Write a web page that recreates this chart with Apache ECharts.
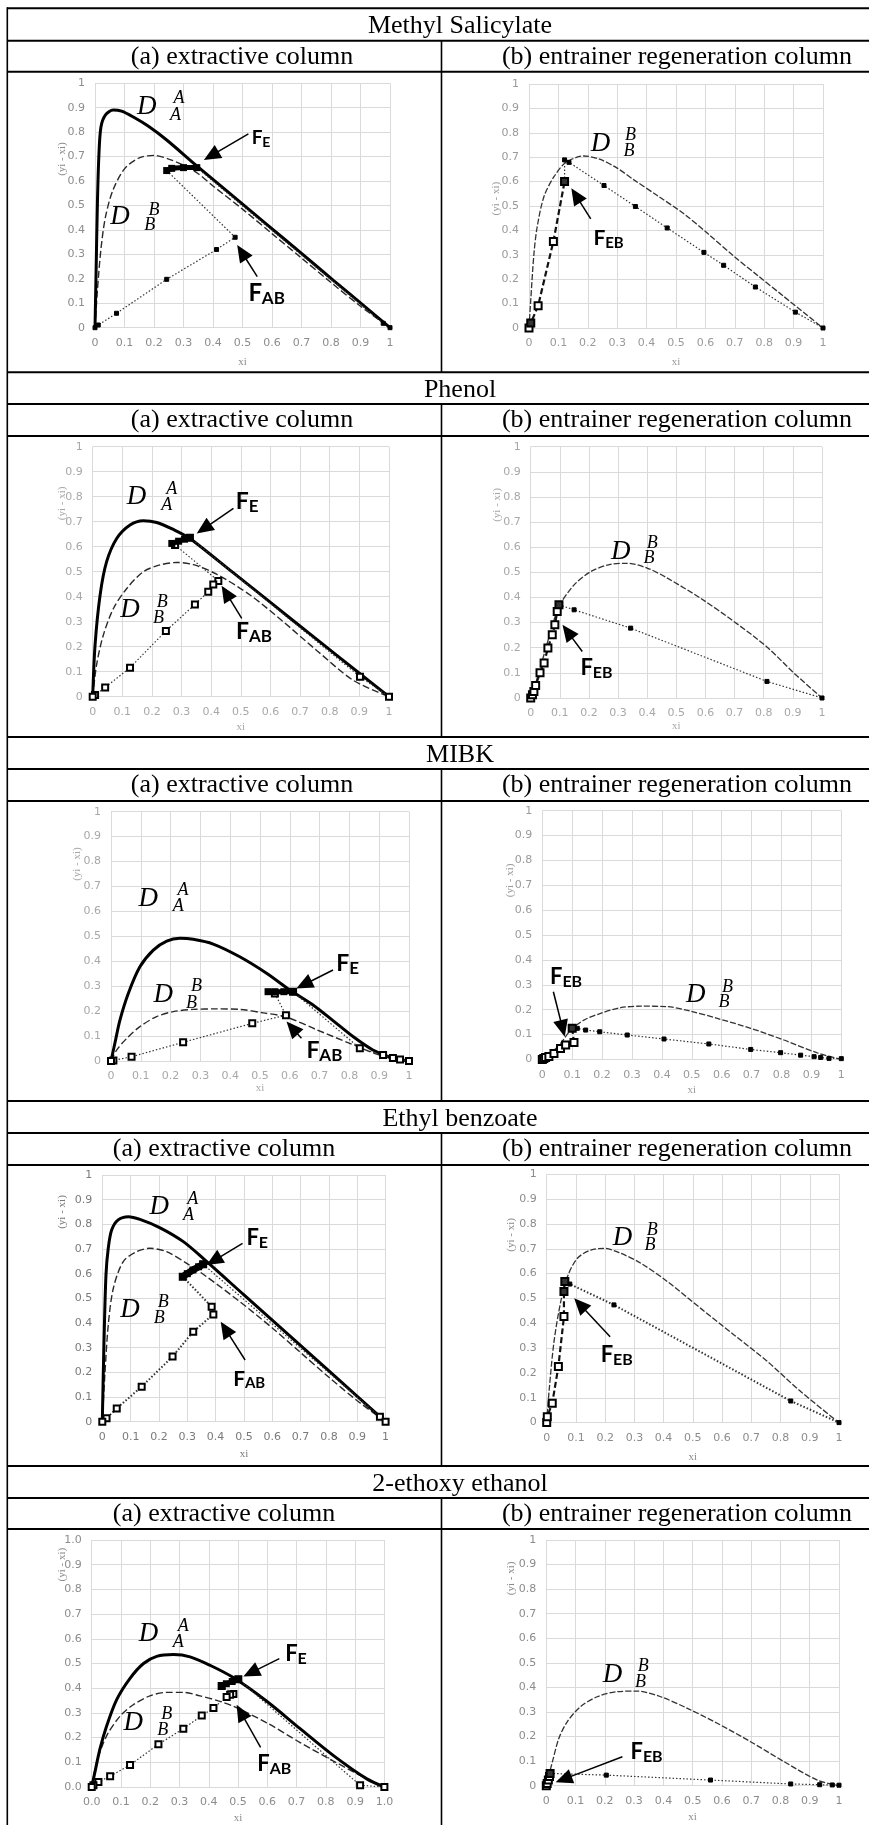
<!DOCTYPE html>
<html><head><meta charset="utf-8">
<script src="https://cdn.jsdelivr.net/npm/echarts@6/dist/echarts.min.js"></script>
<style>html,body{margin:0;padding:0;background:#fff}#c{width:869px;height:1825px}</style>
</head><body><div id="c"></div>
<script>
// ---------- tick labels ----------
const tickLabelsPlain = ['0','0.1','0.2','0.3','0.4','0.5','0.6','0.7','0.8','0.9','1'];
const tickLabelsFixed = ['0.0','0.1','0.2','0.3','0.4','0.5','0.6','0.7','0.8','0.9','1.0'];
const sectionTitles = ['Methyl Salicylate','Phenol','MIBK','Ethyl benzoate','2-ethoxy ethanol'];
const subTitles = ['(a) extractive column','(b) entrainer regeneration column'];
const xName = 'xi';
const yName = '(yi - xi)';

// ---------- Methyl Salicylate ----------
const msA_DA = [[0,0],[0.004,0.25],[0.008,0.5],[0.013,0.7],[0.02,0.82],[0.035,0.87],[0.062,0.891],[0.09,0.886],[0.13,0.862],[0.18,0.825],[0.243,0.768],[0.345,0.662],[0.469,0.537],[0.582,0.423],[0.695,0.309],[0.808,0.194],[0.921,0.08],[1,0]];
const msA_DB = [[0,0],[0.008,0.15],[0.02,0.32],[0.035,0.45],[0.06,0.56],[0.1,0.65],[0.15,0.695],[0.2,0.705],[0.25,0.69],[0.3,0.665],[0.35,0.63],[0.4,0.58],[0.5,0.485],[0.6,0.385],[0.7,0.285],[0.8,0.185],[0.9,0.088],[1,0]];
const msA_FE = [[0.243,0.643],[0.26,0.652],[0.3,0.655],[0.345,0.655]];
const msA_strip = [[0.243,0.643],[0.475,0.37],[0.412,0.32],[0.243,0.198],[0.073,0.059],[0.011,0.011],[0,0]];
const msA_rect = [[0.345,0.655],[0.977,0.018],[1,0]];

const msB_DB = [[0,0],[0.006,0.116],[0.017,0.307],[0.028,0.416],[0.051,0.539],[0.085,0.62],[0.125,0.678],[0.187,0.705],[0.24,0.692],[0.3,0.655],[0.357,0.607],[0.44,0.54],[0.527,0.468],[0.61,0.385],[0.696,0.295],[0.78,0.213],[0.866,0.13],[1,0]];
const msB_strip = [[0.121,0.689],[0.136,0.679],[0.255,0.584],[0.362,0.498],[0.47,0.41],[0.595,0.31],[0.662,0.257],[0.77,0.168],[0.906,0.065],[1,0]];
const msB_rect = [[0,0],[0.006,0.02],[0.031,0.091],[0.083,0.355],[0.121,0.6]];
const msB_link = [[0.121,0.6],[0.121,0.689]];
const msB_feed = [[0.121,0.6],[0.006,0.02]];

// ---------- Phenol ----------
const phA_DA = [[0,0],[0.008,0.207],[0.025,0.407],[0.047,0.54],[0.081,0.633],[0.126,0.687],[0.171,0.704],[0.216,0.697],[0.272,0.669],[0.328,0.633],[0.475,0.495],[0.6,0.377],[0.75,0.235],[0.9,0.094],[1,0]];
const phA_DB = [[0,0],[0.013,0.127],[0.036,0.247],[0.07,0.353],[0.115,0.433],[0.171,0.5],[0.227,0.527],[0.283,0.537],[0.34,0.528],[0.418,0.49],[0.531,0.407],[0.643,0.3],[0.756,0.185],[0.88,0.065],[1,0]];
const phA_FE = [[0.267,0.613],[0.29,0.622],[0.31,0.63],[0.328,0.636]];
const phA_strip = [[0.278,0.607],[0.424,0.463],[0.407,0.449],[0.39,0.42],[0.345,0.369],[0.247,0.263],[0.126,0.116],[0.042,0.037],[0.008,0.007],[0,0]];
const phA_rect = [[0.328,0.636],[0.902,0.08],[1,0]];

const phB_DB = [[0,0],[0.02,0.07],[0.05,0.19],[0.08,0.31],[0.1,0.371],[0.149,0.45],[0.206,0.503],[0.274,0.532],[0.331,0.536],[0.4,0.517],[0.469,0.477],[0.583,0.397],[0.697,0.305],[0.811,0.203],[0.903,0.1],[1,0]];
const phB_strip = [[0.097,0.371],[0.149,0.351],[0.343,0.278],[0.811,0.066],[1,0]];
const phB_rect = [[0,0],[0.006,0.013],[0.011,0.026],[0.017,0.05],[0.032,0.1],[0.046,0.139],[0.059,0.199],[0.074,0.252],[0.083,0.291],[0.091,0.344],[0.097,0.371]];
const phB_feed = [[0.097,0.371]];

// ---------- MIBK ----------
const mibkA_DA = [[0,0],[0.013,0.071],[0.03,0.164],[0.058,0.271],[0.097,0.378],[0.142,0.445],[0.187,0.481],[0.231,0.492],[0.276,0.488],[0.343,0.469],[0.432,0.418],[0.522,0.352],[0.6,0.285],[0.678,0.225],[0.745,0.162],[0.812,0.098],[0.879,0.044],[0.946,0.011],[1,0]];
const mibkA_DB = [[0,0],[0.019,0.044],[0.053,0.091],[0.097,0.138],[0.153,0.178],[0.209,0.198],[0.276,0.207],[0.354,0.209],[0.432,0.207],[0.511,0.193],[0.589,0.176],[0.689,0.126],[0.801,0.071],[0.913,0.019],[1,0]];
const mibkA_FE = [[0.527,0.278],[0.55,0.278],[0.58,0.278],[0.611,0.278]];
const mibkA_strip = [[0.55,0.271],[0.587,0.184],[0.474,0.151],[0.242,0.075],[0.069,0.017],[0.008,0.002],[0,0]];
const mibkA_rect = [[0.611,0.278],[0.835,0.051],[0.913,0.024],[0.946,0.012],[0.97,0.006],[1,0]];

const mibkB_DB = [[0,0],[0.028,0.024],[0.061,0.064],[0.095,0.118],[0.139,0.158],[0.195,0.185],[0.262,0.208],[0.329,0.214],[0.418,0.212],[0.496,0.194],[0.585,0.165],[0.697,0.125],[0.808,0.078],[0.92,0.026],[1,0]];
const mibkB_strip = [[0.1,0.125],[0.117,0.125],[0.145,0.118],[0.192,0.111],[0.284,0.098],[0.407,0.082],[0.557,0.062],[0.697,0.04],[0.797,0.027],[0.864,0.017],[0.909,0.011],[0.931,0.008],[0.959,0.004],[1,0.003]];
const mibkB_rect = [[0,0],[0.005,0.004],[0.011,0.008],[0.022,0.012],[0.039,0.024],[0.061,0.044],[0.078,0.058],[0.106,0.068],[0.1,0.125]];
const mibkB_feed = [[0.1,0.125]];

// ---------- Ethyl benzoate ----------
const ebA_DA = [[0,0],[0.006,0.324],[0.013,0.595],[0.021,0.703],[0.033,0.777],[0.056,0.818],[0.092,0.831],[0.133,0.82],[0.204,0.786],[0.286,0.73],[0.356,0.662],[0.5,0.514],[0.65,0.36],[0.8,0.206],[0.9,0.103],[1,0]];
const ebA_DB = [[0,0],[0.009,0.189],[0.021,0.392],[0.039,0.541],[0.074,0.649],[0.121,0.689],[0.168,0.703],[0.227,0.689],[0.298,0.642],[0.368,0.588],[0.486,0.486],[0.6,0.38],[0.7,0.28],[0.8,0.18],[0.9,0.085],[1,0]];
const ebA_FE = [[0.284,0.588],[0.3,0.6],[0.32,0.615],[0.34,0.628],[0.356,0.638]];
const ebA_strip = [[0.284,0.588],[0.386,0.466],[0.392,0.435],[0.321,0.365],[0.248,0.264],[0.139,0.142],[0.051,0.054],[0.015,0.014],[0,0]];
const ebA_rect = [[0.356,0.638],[0.98,0.02],[1,0]];

const ebB_DB = [[0,0],[0.008,0.125],[0.025,0.326],[0.048,0.487],[0.071,0.588],[0.105,0.662],[0.151,0.695],[0.196,0.702],[0.253,0.682],[0.322,0.642],[0.413,0.568],[0.527,0.46],[0.641,0.353],[0.755,0.246],[0.869,0.125],[1,0]];
const ebB_strip = [[0.062,0.568],[0.079,0.558],[0.23,0.474],[0.835,0.087],[1,0]];
const ebB_rect = [[0,0],[0.002,0.024],[0.019,0.078],[0.04,0.226],[0.059,0.427],[0.059,0.528],[0.062,0.568]];
const ebB_feed = [[0.059,0.528],[0.062,0.568]];

// ---------- 2-ethoxy ethanol ----------
const eeA_DA = [[0,0],[0.011,0.06],[0.028,0.153],[0.051,0.247],[0.085,0.353],[0.131,0.44],[0.177,0.5],[0.222,0.529],[0.279,0.536],[0.336,0.527],[0.404,0.493],[0.484,0.443],[0.598,0.347],[0.712,0.236],[0.826,0.127],[0.94,0.033],[1,0]];
const eeA_DB = [[0,0],[0.017,0.1],[0.051,0.207],[0.097,0.287],[0.142,0.333],[0.199,0.369],[0.256,0.383],[0.313,0.383],[0.37,0.369],[0.427,0.351],[0.484,0.327],[0.598,0.26],[0.712,0.18],[0.826,0.105],[0.94,0.033],[1,0]];
const eeA_FE = [[0.444,0.409],[0.46,0.418],[0.48,0.427],[0.501,0.436]];
const eeA_strip = [[0.444,0.409],[0.484,0.377],[0.473,0.373],[0.461,0.364],[0.416,0.32],[0.376,0.289],[0.313,0.236],[0.228,0.173],[0.131,0.089],[0.063,0.044],[0.023,0.02],[0.006,0.007],[0,0]];
const eeA_rect = [[0.501,0.436],[0.917,0.007],[1,0]];

const eeB_DB = [[0,0],[0.009,0.043],[0.021,0.098],[0.043,0.193],[0.072,0.261],[0.117,0.322],[0.174,0.362],[0.243,0.383],[0.311,0.385],[0.391,0.362],[0.482,0.315],[0.584,0.254],[0.698,0.179],[0.812,0.098],[0.926,0.023],[1,0]];
const eeB_strip = [[0.013,0.05],[0.205,0.043],[0.561,0.023],[0.835,0.007],[0.934,0.004],[0.977,0.003],[1,0.002]];
const eeB_rect = [[0,0],[0.003,0.009],[0.007,0.023],[0.011,0.037],[0.013,0.05]];
const eeB_feed = [[0.013,0.05]];

// ================= layout & styling =================
const SERIF = '"Liberation Serif","Times New Roman",serif';
const SANS = 'Lato,"Liberation Sans",sans-serif';

function S(kind, data, opt) { return Object.assign({kind, data}, opt || {}); }

const panels = [
  { g:[95,83.3,295,244.4], gap:29, yt:[62,0.69], lab:'#8c8c8c', fixed:false,
    series:[S('DB',msA_DB),S('DA',msA_DA),S('dot',msA_strip,{sym:'rect',size:4}),S('dot',msA_rect,{sym:'rect',size:4}),S('FE',msA_FE)],
    D:[{d:[0.175,0.905],sup:[0.285,0.939],sub:[0.273,0.870],L:'A'},{d:[0.085,0.454],sup:[0.2,0.48],sub:[0.186,0.42],L:'B'}],
    F:[{pos:[0.531,0.775],s:'E',fs:19,from:[0.52,0.793],to:[0.369,0.686]},{pos:[0.52,0.14],s:'AB',fs:24,from:[0.55,0.209],to:[0.482,0.338]}] },
  { g:[529,84,294,244], gap:29, yt:[496,0.53], lab:'#9a9a9a', fixed:false,
    series:[S('DBb',msB_DB),S('dot',msB_strip,{sym:'rect',size:4}),S('rect',msB_rect),S('dot',msB_link,{sym:'none'}),S('mk',msB_feed,{size:8})],
    D:[{d:[0.243,0.754],sup:[0.345,0.791],sub:[0.34,0.723],L:'B'}],
    F:[{pos:[0.219,0.368],s:'EB',fs:21,from:[0.21,0.447],to:[0.144,0.573]}] },
  { g:[92.7,446.7,296.3,250], gap:25, yt:[62,0.773], lab:'#a8a8a8', fixed:false,
    series:[S('DB',phA_DB),S('DA',phA_DA),S('dot',phA_strip,{sym:'emptyRect',size:6}),S('dot',phA_rect,{sym:'emptyRect',size:6}),S('FE',phA_FE)],
    D:[{d:[0.148,0.8],sup:[0.267,0.831],sub:[0.25,0.767],L:'A'},{d:[0.126,0.347],sup:[0.235,0.377],sub:[0.222,0.313],L:'B'}],
    F:[{pos:[0.483,0.78],s:'E',fs:23,from:[0.475,0.753],to:[0.351,0.653]},{pos:[0.484,0.26],s:'AB',fs:23,from:[0.503,0.313],to:[0.435,0.444]}] },
  { g:[530.7,446.7,291.3,251.3], gap:23, yt:[497,0.768], lab:'#a8a8a8', fixed:false,
    series:[S('DBb',phB_DB),S('dot',phB_strip,{sym:'rect',size:4}),S('rect',phB_rect),S('mk',phB_feed,{size:7})],
    D:[{d:[0.309,0.583],sup:[0.417,0.616],sub:[0.406,0.556],L:'B'}],
    F:[{pos:[0.171,0.119],s:'EB',fs:22,from:[0.177,0.185],to:[0.109,0.291]}] },
  { g:[111,811.7,298,249.3], gap:21, yt:[77,0.79], lab:'#a8a8a8', fixed:false,
    series:[S('DB',mibkA_DB),S('DA',mibkA_DA),S('dot',mibkA_strip,{sym:'emptyRect',size:6}),S('dot',mibkA_rect,{sym:'emptyRect',size:6}),S('FE',mibkA_FE)],
    D:[{d:[0.125,0.652],sup:[0.242,0.686],sub:[0.226,0.619],L:'A'},{d:[0.175,0.265],sup:[0.287,0.298],sub:[0.27,0.231],L:'B'}],
    F:[{pos:[0.756,0.392],s:'E',fs:23,from:[0.745,0.365],to:[0.622,0.291]},{pos:[0.656,0.041],s:'AB',fs:23,from:[0.639,0.091],to:[0.589,0.158]}] },
  { g:[542.3,810.7,299,248.7], gap:25, yt:[510,0.72], lab:'#9a9a9a', fixed:false,
    series:[S('DBb',mibkB_DB),S('dot',mibkB_strip,{sym:'rect',size:4}),S('rect',mibkB_rect),S('mk',mibkB_feed,{size:7})],
    D:[{d:[0.513,0.259],sup:[0.619,0.292],sub:[0.608,0.228],L:'B'}],
    F:[{pos:[0.026,0.332],s:'EB',fs:22,from:[0.037,0.272],to:[0.075,0.091]}] },
  { g:[102.3,1175,283.3,246.7], gap:27, yt:[62,0.85], lab:'#7a7a7a', fixed:false,
    series:[S('DB',ebA_DB),S('DA',ebA_DA),S('dot',ebA_strip,{sym:'emptyRect',size:6,w:2}),S('dot',ebA_rect,{sym:'emptyRect',size:6}),S('FE',ebA_FE,{w:7})],
    D:[{d:[0.201,0.872],sup:[0.319,0.903],sub:[0.304,0.838],L:'A'},{d:[0.098,0.453],sup:[0.215,0.486],sub:[0.201,0.419],L:'B'}],
    F:[{pos:[0.509,0.743],s:'E',fs:22,from:[0.495,0.723],to:[0.368,0.635]},{pos:[0.462,0.173],s:'AB',fs:21,from:[0.504,0.25],to:[0.418,0.405]}] },
  { g:[546.7,1174.3,292.3,248.3], gap:29, yt:[511,0.756], lab:'#8c8c8c', fixed:false,
    series:[S('DBb',ebB_DB),S('dot',ebB_strip,{sym:'rect',size:4,w:2}),S('rect',ebB_rect),S('mk',ebB_feed,{size:7})],
    D:[{d:[0.259,0.742],sup:[0.361,0.776],sub:[0.353,0.715],L:'B'}],
    F:[{pos:[0.185,0.272],s:'EB',fs:22,from:[0.217,0.346],to:[0.094,0.501]}] },
  { g:[91.7,1540,292.7,250], gap:26, yt:[62,0.9], lab:'#8c8c8c', fixed:true,
    series:[S('DB',eeA_DB),S('DA',eeA_DA),S('dot',eeA_strip,{sym:'emptyRect',size:6}),S('dot',eeA_rect,{sym:'emptyRect',size:6}),S('FE',eeA_FE)],
    D:[{d:[0.194,0.62],sup:[0.313,0.649],sub:[0.296,0.587],L:'A'},{d:[0.142,0.26],sup:[0.256,0.293],sub:[0.243,0.231],L:'B'}],
    F:[{pos:[0.661,0.54],s:'E',fs:22,from:[0.641,0.52],to:[0.518,0.447]},{pos:[0.566,0.093],s:'AB',fs:22,from:[0.577,0.16],to:[0.495,0.333]}] },
  { g:[546.3,1540,292.7,245.7], gap:26, yt:[511,0.844], lab:'#8c8c8c', fixed:false,
    series:[S('DBb',eeB_DB),S('dot',eeB_strip,{sym:'rect',size:4}),S('rect',eeB_rect),S('mk',eeB_feed,{size:7})],
    D:[{d:[0.226,0.45],sup:[0.331,0.488],sub:[0.322,0.42],L:'B'}],
    F:[{pos:[0.288,0.138],s:'EB',fs:22,from:[0.26,0.118],to:[0.032,0.014]}] }
];

const hLines = [8.3,40.7,71.7,372.3,404,436,737,769,801,1101,1133,1165,1466,1498,1529];
const titleY = [26,390,755,1119,1484];
const subY = [57,420,785,1149,1514];
const subAX = [242,242,242,224,224];
const subBX = 677, titleX = 460;

// ================= build option =================
const grid = [], xAxis = [], yAxis = [], series = [];
panels.forEach((p, i) => {
  grid.push({left:p.g[0], top:p.g[1], width:p.g[2], height:p.g[3], containLabel:false});
  const labs = p.fixed ? tickLabelsFixed : tickLabelsPlain;
  const axisCommon = {
    type:'value', min:0, max:1, interval:0.1, gridIndex:i,
    axisLine:{show:false}, axisTick:{show:false},
    splitLine:{show:true, lineStyle:{color:'#dadada', width:1}},
    axisLabel:{color:p.lab, fontSize:11, fontFamily:'"DejaVu Sans",sans-serif', margin:10,
      formatter: v => labs[Math.round(v*10)]}
  };
  xAxis.push(Object.assign({}, axisCommon, {name:xName, nameLocation:'middle', nameGap:p.gap,
    nameTextStyle:{color:p.lab, fontSize:11, fontFamily:SERIF}}));
  yAxis.push(Object.assign({}, axisCommon));
  p.series.forEach(s => {
    const base = {xAxisIndex:i, yAxisIndex:i, data:s.data, animation:false, silent:true};
    if (s.kind === 'DA') series.push(Object.assign(base, {type:'line', showSymbol:false, smooth:0.3, z:4,
      lineStyle:{color:'#000', width:3}}));
    else if (s.kind === 'DB') series.push(Object.assign(base, {type:'line', showSymbol:false, smooth:0.3, z:3,
      lineStyle:{color:'#2a2a2a', width:1.4, type:[7,3]}}));
    else if (s.kind === 'DBb') series.push(Object.assign(base, {type:'line', showSymbol:false, smooth:0.3, z:3,
      lineStyle:{color:'#333', width:1.3, type:[6,2]}}));
    else if (s.kind === 'FE') series.push(Object.assign(base, {type:'line', symbol:'rect', symbolSize:7, showSymbol:true, z:6,
      itemStyle:{color:'#000'}, lineStyle:{color:'#000', width:s.w || 5}}));
    else if (s.kind === 'dot') series.push(Object.assign(base, {type:'line', symbol:s.sym, symbolSize:s.size||5, showSymbol:s.sym!=='none', z:5,
      itemStyle:{color:'#000', borderColor:'#000', borderWidth:1},
      lineStyle:{color:'#333', width:s.w || 1.2, type:[1.5,2]}}));
    else if (s.kind === 'rect') series.push(Object.assign(base, {type:'line', symbol:'emptyRect', symbolSize:7, showSymbol:true, z:5,
      itemStyle:{color:'#000', borderColor:'#000', borderWidth:1.2},
      lineStyle:{color:'#111', width:2.2, type:[6,3]}}));
    else if (s.kind === 'mk') series.push(Object.assign(base, {type:'scatter', symbol:'rect', symbolSize:s.size||7, z:7,
      itemStyle:{color:'#000'}}));
  });
});

const chart = echarts.init(document.getElementById('c'), null, {renderer:'canvas', width:869, height:1825});
chart.setOption({backgroundColor:'#fff', animation:false, grid, xAxis, yAxis, series});

// ================= graphics: table + annotations =================
const G = [];
hLines.forEach(y => G.push({type:'line', shape:{x1:7, y1:y, x2:869, y2:y}, style:{stroke:'#000', lineWidth:2}, z:100, silent:true}));
G.push({type:'line', shape:{x1:7.3, y1:7.3, x2:7.3, y2:1825}, style:{stroke:'#000', lineWidth:1.6}, z:100});
[[40.7,372.3],[404,737],[769,1101],[1133,1466],[1498,1825]].forEach(r =>
  G.push({type:'line', shape:{x1:441.5, y1:r[0], x2:441.5, y2:r[1]}, style:{stroke:'#000', lineWidth:1.6}, z:100}));
sectionTitles.forEach((t, k) => {
  G.push({type:'text', x:titleX, y:titleY[k], style:{text:t, fill:'#000', font:'26px '+SERIF, textAlign:'center', textVerticalAlign:'middle'}, z:100});
  G.push({type:'text', x:subAX[k], y:subY[k], style:{text:subTitles[0], fill:'#000', font:'26px '+SERIF, textAlign:'center', textVerticalAlign:'middle'}, z:100});
  G.push({type:'text', x:subBX, y:subY[k], style:{text:subTitles[1], fill:'#000', font:'26px '+SERIF, textAlign:'center', textVerticalAlign:'middle'}, z:100});
});

function arrow(S, T) {
  const dx = T[0]-S[0], dy = T[1]-S[1], len = Math.hypot(dx, dy);
  const ux = dx/len, uy = dy/len, L = 17, w = 7.5;
  const bx = T[0]-ux*L, by = T[1]-uy*L, nx = -uy, ny = ux;
  G.push({type:'line', shape:{x1:S[0], y1:S[1], x2:bx+ux*2, y2:by+uy*2}, style:{stroke:'#000', lineWidth:1.5}, z:60});
  G.push({type:'polygon', shape:{points:[[T[0],T[1]],[bx+nx*w,by+ny*w],[bx-nx*w,by-ny*w]]}, style:{fill:'#000'}, z:60});
}

panels.forEach((p, i) => {
  const P = v => chart.convertToPixel({gridIndex:i}, v);
  const yt = P([0, p.yt[1]]);
  G.push({type:'text', x:p.yt[0], y:yt[1], rotation:Math.PI/2,
    style:{text:yName, fill:p.lab, font:'11px '+SERIF, textAlign:'center', textVerticalAlign:'middle'}, z:50});
  p.D.forEach(d => {
    const a = P(d.d), b = P(d.sup), c = P(d.sub);
    G.push({type:'text', x:a[0], y:a[1], style:{text:'D', fill:'#000', font:'italic 27px '+SERIF, textAlign:'center', textVerticalAlign:'middle'}, z:60});
    G.push({type:'text', x:b[0], y:b[1], style:{text:d.L, fill:'#000', font:'italic 18px '+SERIF, textAlign:'center', textVerticalAlign:'middle'}, z:60});
    G.push({type:'text', x:c[0], y:c[1], style:{text:d.L, fill:'#000', font:'italic 18px '+SERIF, textAlign:'center', textVerticalAlign:'middle'}, z:60});
  });
  p.F.forEach(f => {
    const a = P(f.pos);
    const sub = Math.round(f.fs*0.72);
    G.push({type:'text', x:a[0], y:a[1], style:{text:'F', fill:'#000', font:'bold '+f.fs+'px '+SANS, textAlign:'left', textVerticalAlign:'middle'}, z:60});
    G.push({type:'text', x:a[0]+f.fs*0.56, y:a[1]+f.fs*0.22, style:{text:f.s, fill:'#000', font:'bold '+sub+'px '+SANS, textAlign:'left', textVerticalAlign:'middle'}, z:60});
    arrow(P(f.from), P(f.to));
  });
});
chart.setOption({graphic: G});
</script></body></html>
